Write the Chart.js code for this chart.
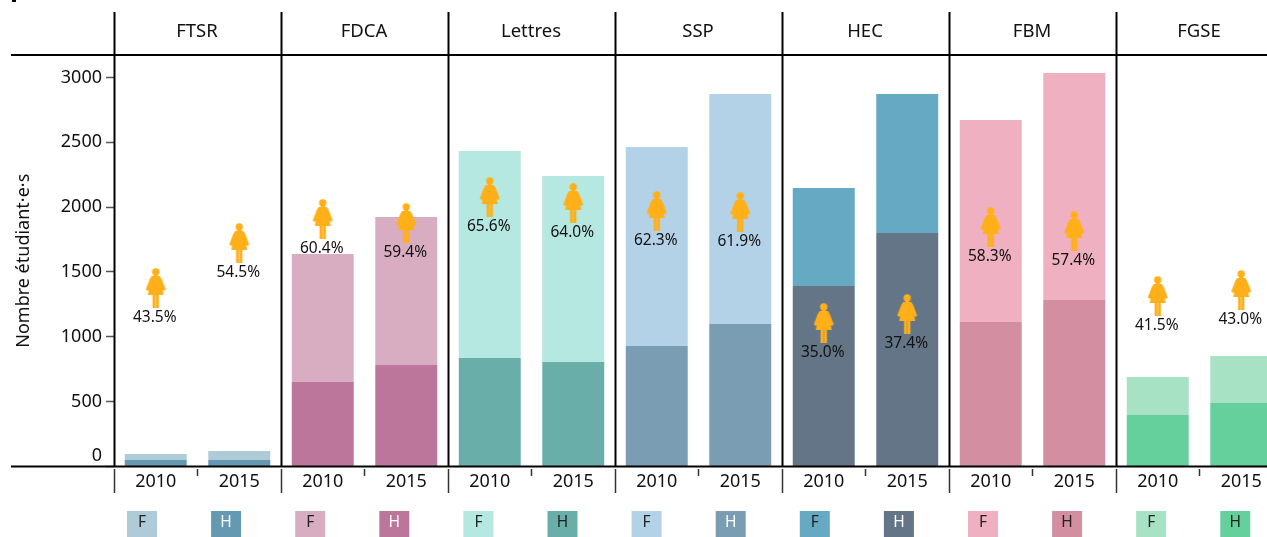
<!DOCTYPE html>
<html lang="fr">
<head>
<meta charset="utf-8">
<title>Nombre étudiant·e·s par faculté</title>
<script src="https://cdn.jsdelivr.net/npm/chart.js@4/dist/chart.umd.min.js"></script>
<style>
html,body{margin:0;padding:0;background:#fff;overflow:hidden;width:1267px;height:537px}
canvas{position:absolute;left:0;top:0}
</style>
</head>
<body>
<canvas id="c" width="1300" height="537" style="width:1300px;height:537px"></canvas>
<script>
const faculties = ['FTSR','FDCA','Lettres','SSP','HEC','FBM','FGSE'];
const years = ['2010','2015','2010','2015','2010','2015','2010','2015','2010','2015','2010','2015','2010','2015'];
const hommes = [50,50,651,782,836,806,929,1099,1392,1800,1114,1284,397,490];
const femmes = [46,70,987,1142,1596,1434,1534,1773,756,1072,1558,1751,293,362];
const percentLabels = ['43.5%','54.5%','60.4%','59.4%','65.6%','64.0%','62.3%','61.9%','35.0%','37.4%','58.3%','57.4%','41.5%','43.0%'];
const iconLevels = [1377,1724,1909,1878,2078,2032,1970,1963,1107,1176,1847,1816,1315,1361];
const colorsF = ['#aecbd7','#aecbd7','#d9adc1','#d9adc1','#b5e8e0','#b5e8e0','#b4d2e7','#b4d2e7','#65a9c2','#65a9c2','#efb1c1','#efb1c1','#a7e2c4','#a7e2c4'];
const colorsH = ['#6598b1','#6598b1','#bc759b','#bc759b','#6aaeaa','#6aaeaa','#7a9db4','#7a9db4','#647587','#647587','#d38fa1','#d38fa1','#66d09d','#66d09d'];
const legendLetters = ['F','H','F','H','F','H','F','H','F','H','F','H','F','H'];
const legendInk = ['#222','#fff','#222','#fff','#222','#222','#222','#fff','#222','#fff','#222','#222','#222','#222'];
const yTicks = [0,500,1000,1500,2000,2500,3000];

const FONT = '"Noto Sans", "Open Sans", sans-serif';
const INK = '#111';

function womanIcon(){
  const s = document.createElement('canvas');
  s.width = 24; s.height = 40;
  const g = s.getContext('2d');
  g.filter = 'blur(0.3px)';
  g.fillStyle = '#ffb019';
  g.beginPath(); g.arc(12,3.9,3.7,0,Math.PI*2); g.fill();
  g.fillRect(10,6.5,4,3);
  g.beginPath();
  g.moveTo(8,8); g.lineTo(16,8);
  g.lineTo(18,11); g.lineTo(22,21.5);
  g.lineTo(20,23); g.lineTo(19,22); g.lineTo(20,27);
  g.lineTo(4,27); g.lineTo(5,22); g.lineTo(4,23); g.lineTo(2,21.5);
  g.lineTo(6,11);
  g.closePath(); g.fill();
  g.fillStyle = '#ffb019';
  g.fillRect(8.8,26,3,14);
  g.fillRect(12.2,26,3,14);
  return s;
}

const decorations = {
  id:'decorations',
  afterDatasetsDraw(chart){
    const {ctx, scales:{x,y}} = chart;
    const base = y.getPixelForValue(0), head = chart.chartArea.top, half = (x.getPixelForTick(1)-x.getPixelForTick(0))/2;
    ctx.save();
    ctx.strokeStyle = '#000'; ctx.lineCap = 'butt';
    ctx.lineWidth = 2;
    const hline = yy => { ctx.beginPath(); ctx.moveTo(11,yy); ctx.lineTo(1300,yy); ctx.stroke(); };
    hline(head); hline(base);
    faculties.forEach((name,k)=>{
      const c0 = x.getPixelForTick(2*k), c1 = x.getPixelForTick(2*k+1);
      const sep = c0-half+0.5;
      ctx.strokeStyle = '#000'; ctx.lineWidth = 2;
      ctx.beginPath(); ctx.moveTo(sep,12); ctx.lineTo(sep,base); ctx.stroke();
      ctx.strokeStyle = '#333'; ctx.lineWidth = 1.5;
      ctx.beginPath(); ctx.moveTo(sep,469); ctx.lineTo(sep,493); ctx.stroke();
      const mid = (c0+c1)/2;
      ctx.beginPath(); ctx.moveTo(mid,469); ctx.lineTo(mid,476); ctx.stroke();
      ctx.fillStyle = INK; ctx.font = '18.5px '+FONT; ctx.textAlign='center'; ctx.textBaseline='middle';
      ctx.fillText(name, mid-0.5, 32);
    });
    percentLabels.forEach((t,i)=>{
      ctx.fillStyle = INK; ctx.font = '15.5px '+FONT; ctx.textAlign='center'; ctx.textBaseline='middle';
      ctx.fillText(t, x.getPixelForTick(i)-1, y.getPixelForValue(iconLevels[i])+29.5);
    });
    legendLetters.forEach((t,i)=>{
      const l = 127+84.1*i;
      ctx.fillStyle = (t==='F'?colorsF:colorsH)[i];
      ctx.fillRect(l,511,30,26);
      ctx.fillStyle = legendInk[i]; ctx.font = '15.5px '+FONT; ctx.textAlign='center'; ctx.textBaseline='middle';
      ctx.fillText(t,l+15,523);
    });
    ctx.fillStyle='#000'; ctx.fillRect(12,0,4,2);
    ctx.restore();
  }
};

new Chart(document.getElementById('c'),{
  type:'bar',
  plugins:[decorations],
  data:{
    labels:years,
    datasets:[
      {type:'line',label:'Part de femmes',data:iconLevels,stack:'icons',showLine:false,order:0,pointStyle:womanIcon(),pointRadius:4,pointHoverRadius:4,clip:false},
      {label:'H',data:hommes,stack:'bars',backgroundColor:colorsH,order:1,barPercentage:0.742,categoryPercentage:1},
      {label:'F',data:femmes,stack:'bars',backgroundColor:colorsF,order:1,barPercentage:0.742,categoryPercentage:1}
    ]
  },
  options:{
    responsive:false,
    animation:false,
    layout:{padding:{left:0,right:17,top:55,bottom:0}},
    plugins:{legend:{display:false},tooltip:{enabled:false}},
    scales:{
      x:{
        stacked:true,
        afterFit(s){ s.height = 70.5; },
        grid:{display:false},
        border:{display:false},
        ticks:{color:INK,font:{family:FONT,size:18},padding:-3,autoSkip:false,maxRotation:0,minRotation:0}
      },
      y:{
        stacked:true,
        min:0,max:3173,
        afterFit(s){ s.width = 114; },
        grid:{drawOnChartArea:false,drawTicks:true,tickLength:8,tickColor:'#555',tickWidth:1.5},
        border:{display:false},
        title:{display:true,text:'Nombre étudiant·e·s',color:INK,font:{family:FONT,size:18},padding:{top:13,bottom:0}},
        afterBuildTicks(s){ s.ticks = yTicks.map(v=>({value:v})); },
        ticks:{color:INK,font:{family:FONT,size:18},padding:4,includeBounds:false,
          callback(v){ return v===0 ? ['0',''] : String(v); }}
      }
    }
  }
});
</script>
</body>
</html>
